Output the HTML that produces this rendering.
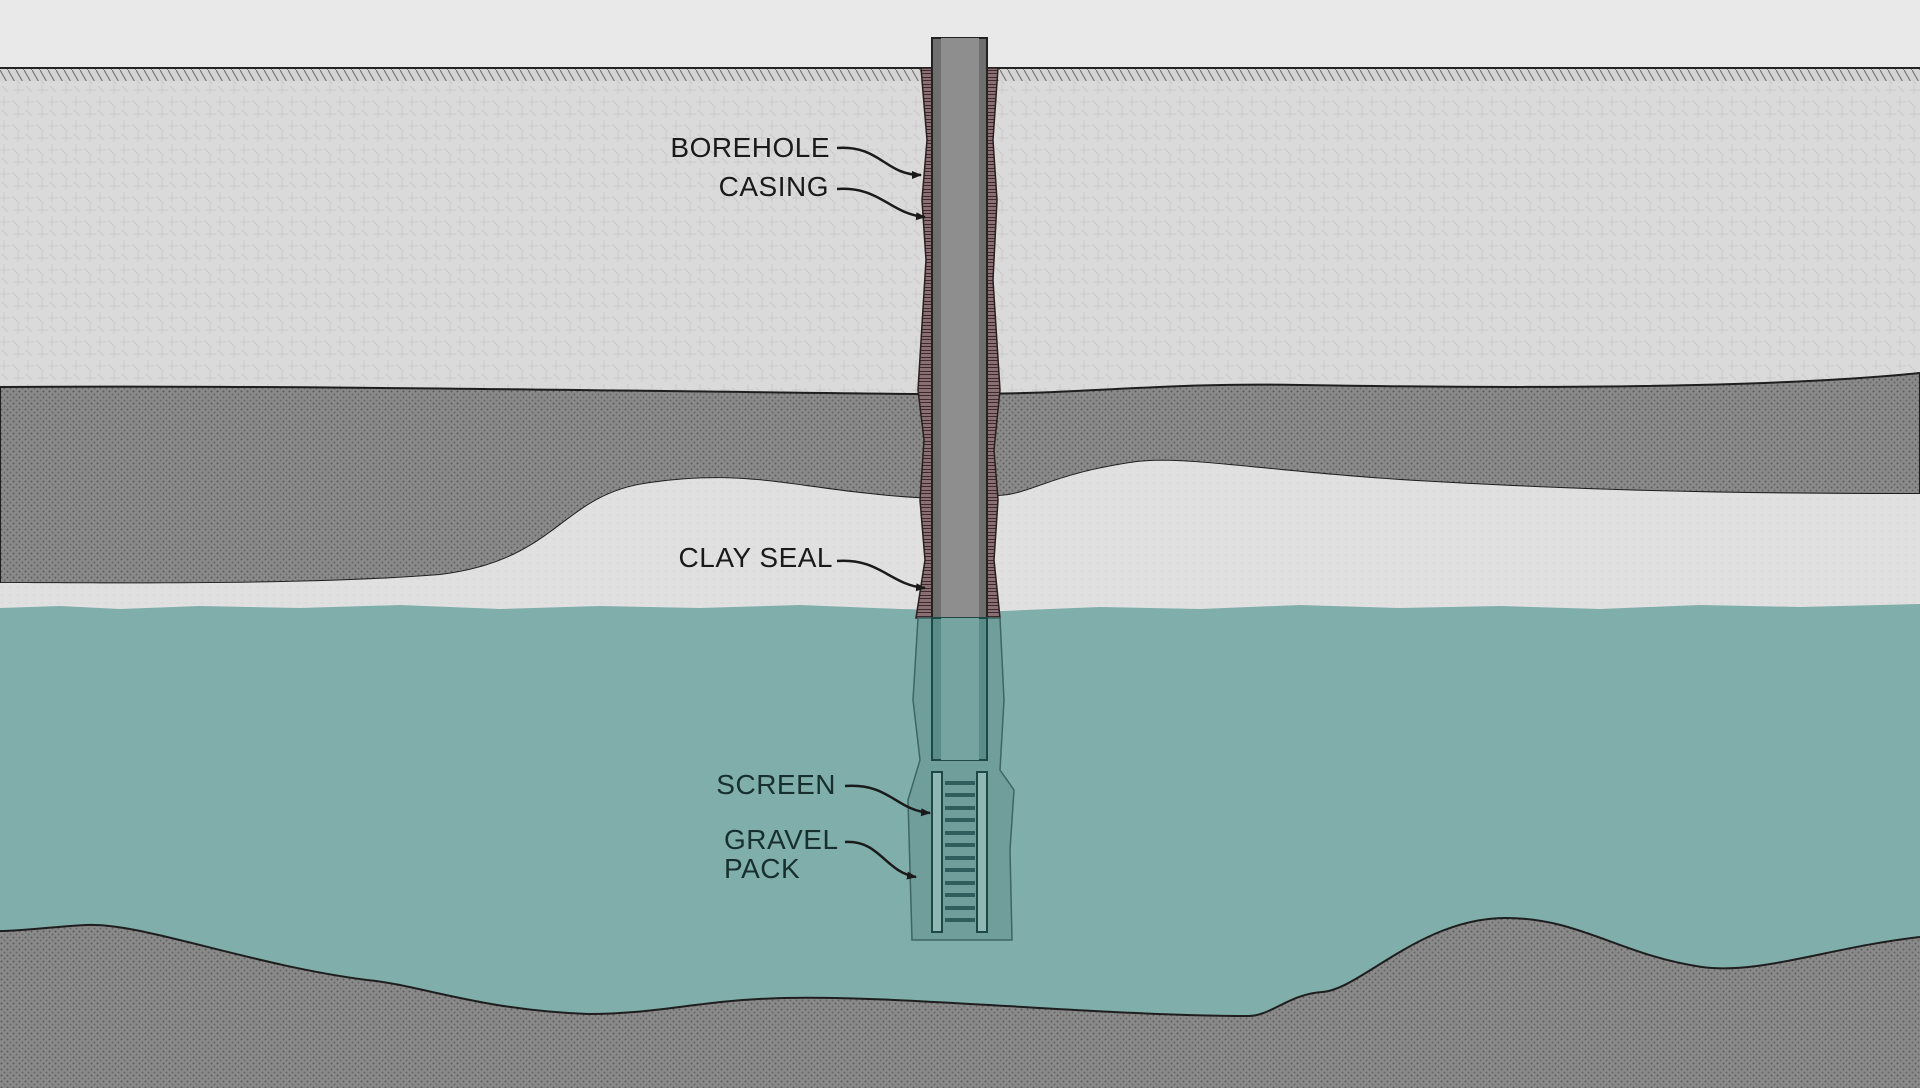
<!DOCTYPE html>
<html><head><meta charset="utf-8"><style>
html,body{margin:0;padding:0;background:#e8e8e8;}
svg{display:block;}
text{font-family:"Liberation Sans",sans-serif;font-size:28px;fill:#1a1a1a;letter-spacing:0.5px;}
</style></head><body>
<svg width="1920" height="1088" viewBox="0 0 1920 1088" xmlns="http://www.w3.org/2000/svg">
<defs>
<pattern id="lt" width="24" height="24" patternUnits="userSpaceOnUse">
<rect width="24" height="24" fill="#dadada"/>
<path d="M0 6h10M14 18h10M4 0v10M18 12v10M12 4l8 8M2 14l6 6" stroke="#c9c9c9" stroke-width="1"/>
</pattern>
<pattern id="dk" width="6" height="6" patternUnits="userSpaceOnUse">
<rect width="6" height="6" fill="#8a8a8a"/>
<circle cx="1.5" cy="1.5" r="1" fill="#5a5a5a"/><circle cx="4.5" cy="4.5" r="1" fill="#666"/>
</pattern>
<pattern id="sd" width="8" height="8" patternUnits="userSpaceOnUse">
<rect width="8" height="8" fill="#e0e0e0"/><circle cx="2" cy="3" r="0.6" fill="#c8c8c8"/>
</pattern>
<pattern id="hatch" width="8" height="14" patternUnits="userSpaceOnUse">
<rect width="8" height="14" fill="#d4d4d4"/><path d="M0 0l8 14" stroke="#666" stroke-width="1"/>
</pattern>
<pattern id="br" width="12" height="7" patternUnits="userSpaceOnUse">
<rect width="12" height="7" fill="#8a7074"/><path d="M0 0.5h12M0 3.5h12" stroke="#3a2a2c" stroke-width="1"/>
</pattern>
<marker id="ah" markerUnits="userSpaceOnUse" markerWidth="12" markerHeight="12" refX="9" refY="6" orient="auto"><path d="M0 2L10 6L0 10z" fill="#1a1a1a"/></marker>
</defs>
<rect width="1920" height="1088" fill="#e9e9e9"/>
<rect x="0" y="68" width="1920" height="340" fill="url(#lt)"/>
<rect x="0" y="68" width="1920" height="13" fill="url(#hatch)"/>
<line x1="0" y1="68" x2="1920" y2="68" stroke="#222" stroke-width="2"/>
<path d="M0 387 C300 385 700 392 920 394 C1080 396 1150 382 1300 385 C1600 390 1800 385 1920 373 L1920 494 C1750 494 1600 492 1400 480 C1250 470 1180 455 1130 463 C1050 475 1030 495 998 496 C960 500 920 500 870 494 C790 486 740 470 650 483 C560 495 560 560 440 575 C300 586 100 583 0 583 Z" fill="url(#dk)" stroke="#1e1e1e" stroke-width="2"/>
<path d="M0 583 C100 583 300 586 440 575 C560 560 560 495 650 483 C740 470 790 486 870 494 C920 500 960 500 998 496 C1030 495 1050 475 1130 463 C1180 455 1250 470 1400 480 C1600 492 1750 494 1920 494 L1920 610 L0 610 Z" fill="url(#sd)"/>
<rect x="0" y="900" width="1920" height="188" fill="url(#dk)"/>
<path d="M0 608 L60 606 L120 609 L200 606 L300 608 L400 605 L500 609 L600 606 L700 608 L800 605 L900 609 L1000 611 L1100 607 L1200 609 L1300 605 L1400 608 L1500 606 L1600 609 L1700 605 L1800 607 L1920 604 L1920 937 C1830 947 1760 975 1702 967 C1620 955 1580 918 1506 918 C1420 918 1360 990 1322 992 C1290 994 1270 1016 1249 1016 C1100 1016 900 995 784 998 C700 1000 660 1014 588 1014 C480 1010 420 985 367 980 C250 965 140 922 86 925 C50 927 20 931 0 931 Z" fill="#80aeab"/>
<path d="M1920 937 C1830 947 1760 975 1702 967 C1620 955 1580 918 1506 918 C1420 918 1360 990 1322 992 C1290 994 1270 1016 1249 1016 C1100 1016 900 995 784 998 C700 1000 660 1014 588 1014 C480 1010 420 985 367 980 C250 965 140 922 86 925 C50 927 20 931 0 931" fill="none" stroke="#1e1e1e" stroke-width="2"/>
<path d="M921 68 L927 140 L922 200 L926 260 L918 390 L924 440 L920 500 L925 560 L916 618 L936 618 L936 68 Z" fill="url(#br)" stroke="#2a1e1f" stroke-width="1.5"/>
<path d="M998 68 L993 140 L997 200 L993 280 L1000 390 L994 450 L998 500 L994 560 L1000 618 L984 618 L984 68 Z" fill="url(#br)" stroke="#2a1e1f" stroke-width="1.5"/>
<rect x="932" y="38" width="55" height="580" fill="#6f6f6f" stroke="#222" stroke-width="2"/>
<rect x="941" y="38" width="38" height="580" fill="#8e8e8e"/>
<path d="M918 618 L913 700 L920 760 L908 800 L912 940 L1012 940 L1010 850 L1014 790 L1000 770 L1004 700 L1000 618 Z" fill="#6f9e9b" stroke="#3d6563" stroke-width="1.5"/>
<rect x="932" y="618" width="55" height="142" fill="#5a8c89" stroke="#1f4745" stroke-width="2"/>
<rect x="941" y="618" width="38" height="142" fill="#76a4a1"/>
<rect x="932" y="772" width="10" height="160" fill="#8fb8b5" stroke="#1f4745" stroke-width="2"/>
<rect x="977" y="772" width="10" height="160" fill="#8fb8b5" stroke="#1f4745" stroke-width="2"/>
<g stroke="#2f5e5c" stroke-width="4">
<line x1="945" y1="783" x2="975" y2="783"/><line x1="945" y1="795" x2="975" y2="795"/><line x1="945" y1="808" x2="975" y2="808"/><line x1="945" y1="820" x2="975" y2="820"/><line x1="945" y1="833" x2="975" y2="833"/><line x1="945" y1="845" x2="975" y2="845"/><line x1="945" y1="858" x2="975" y2="858"/><line x1="945" y1="870" x2="975" y2="870"/><line x1="945" y1="883" x2="975" y2="883"/><line x1="945" y1="895" x2="975" y2="895"/><line x1="945" y1="908" x2="975" y2="908"/><line x1="945" y1="920" x2="975" y2="920"/>
</g>
<text x="830" y="157" text-anchor="end">BOREHOLE</text>
<text x="829" y="196" text-anchor="end">CASING</text>
<text x="833" y="567" text-anchor="end">CLAY SEAL</text>
<text x="836" y="794" text-anchor="end" style="fill:#17302f">SCREEN</text>
<text x="724" y="849" style="fill:#17302f">GRAVEL</text>
<text x="724" y="878" style="fill:#17302f">PACK</text>
<g fill="none" stroke="#1a1a1a" stroke-width="2.5" marker-end="url(#ah)">
<path d="M837 148 C880 145 885 175 921 175"/>
<path d="M837 189 C880 186 890 214 925 217"/>
<path d="M837 561 C880 558 890 585 925 588"/>
<path d="M845 786 C890 783 895 810 930 813"/>
<path d="M845 842 C880 840 885 872 916 877"/>
</g>
</svg>
</body></html>
